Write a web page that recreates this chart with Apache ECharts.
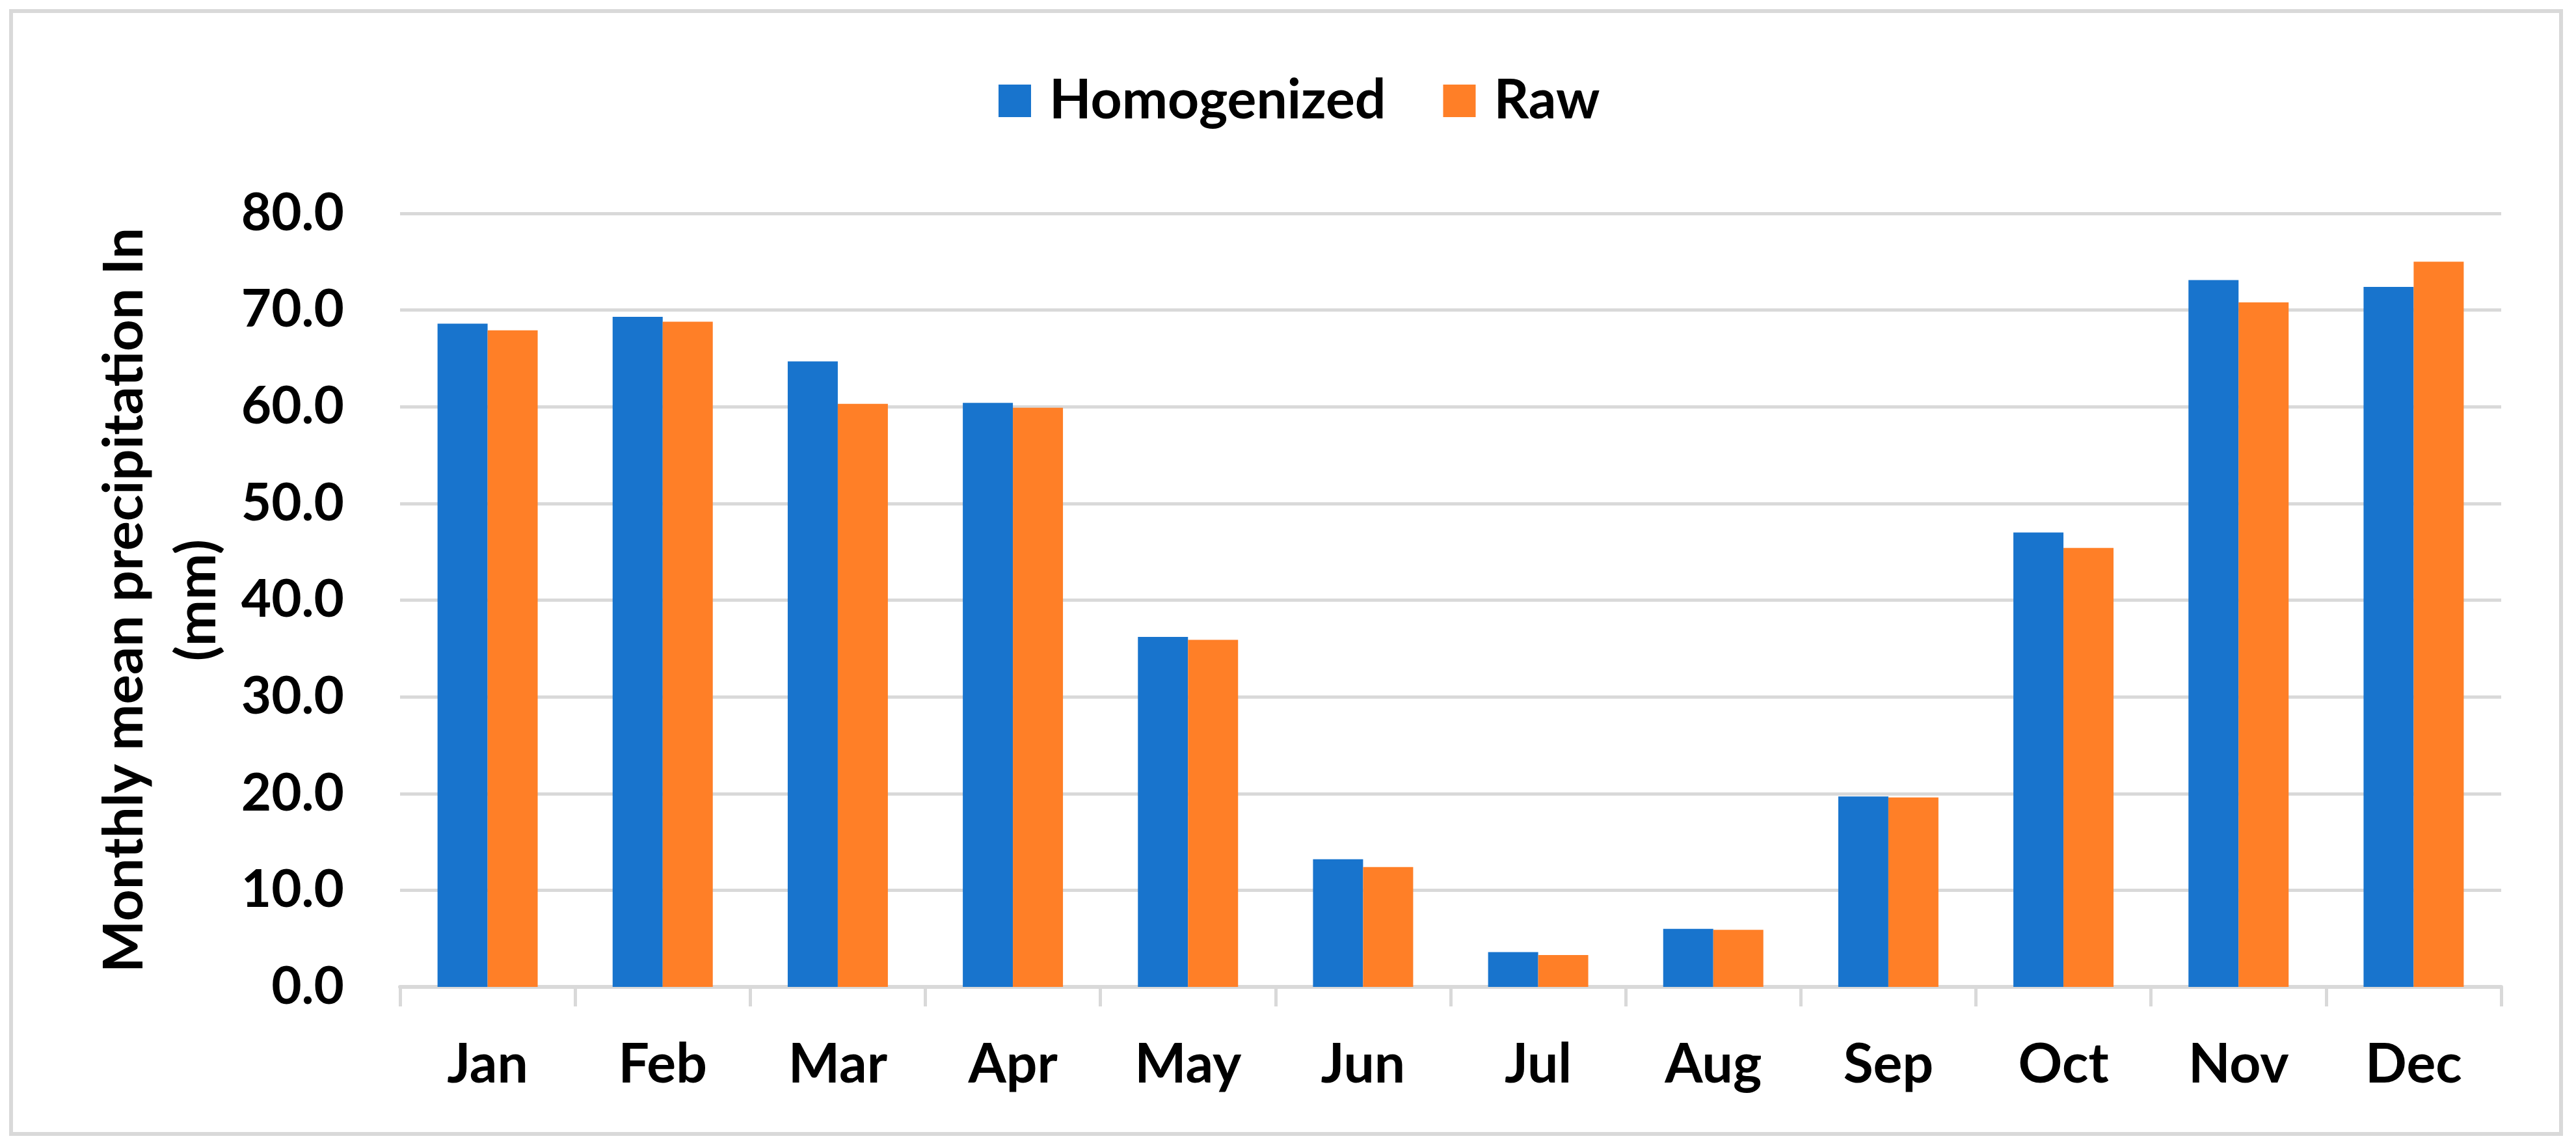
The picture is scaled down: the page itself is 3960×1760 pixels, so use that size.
<!DOCTYPE html>
<html>
<head>
<meta charset="utf-8">
<script src="https://cdn.jsdelivr.net/npm/echarts@6/dist/echarts.min.js"></script>
<style>
html,body{margin:0;padding:0;background:#fff;}
#chart{width:3960px;height:1760px;}
</style>
</head>
<body>
<div id="chart"></div>
<script>
const months = ['Jan','Feb','Mar','Apr','May','Jun','Jul','Aug','Sep','Oct','Nov','Dec'];
const homogenized = [68.6, 69.3, 64.7, 60.4, 36.2, 13.2, 3.6, 6.0, 19.7, 47.0, 73.1, 72.4];
const raw = [67.9, 68.8, 60.3, 59.9, 35.9, 12.4, 3.3, 5.9, 19.6, 45.4, 70.8, 75.0];
const yTicks = [0, 10, 20, 30, 40, 50, 60, 70, 80];

const FONT = 'Lato';
const chart = echarts.init(document.getElementById('chart'), null, {renderer: 'canvas'});
chart.setOption({
  backgroundColor: '#ffffff',
  animation: false,
  graphic: [{
    type: 'rect',
    shape: {x: 17, y: 17, width: 3920, height: 1726},
    style: {fill: 'none', stroke: '#d9d9d9', lineWidth: 6},
    silent: true
  }],
  legend: {
    left: 1530,
    top: 108,
    itemWidth: 50,
    itemHeight: 50,
    itemGap: 88,
    icon: 'rect',
    textStyle: {fontFamily: FONT, fontWeight: 'bold', fontSize: 84, color: '#000', lineHeight: 84, padding: [0, 0, 0, 23]},
    data: ['Homogenized', 'Raw']
  },
  grid: {left: 615, right: 115, top: 328, bottom: 243, containLabel: false},
  xAxis: {
    type: 'category',
    data: months,
    boundaryGap: true,
    axisLine: {show: true, lineStyle: {color: '#d9d9d9', width: 6}},
    axisTick: {show: true, length: 30, lineStyle: {color: '#d9d9d9', width: 5}},
    axisLabel: {fontFamily: FONT, fontWeight: 'bold', fontSize: 84, color: '#000', margin: 78, lineHeight: 84}
  },
  yAxis: {
    type: 'value',
    min: yTicks[0],
    max: yTicks[yTicks.length - 1],
    interval: 10,
    name: 'Monthly mean precipitation In\n(mm)',
    nameLocation: 'middle',
    nameRotate: 90,
    nameGap: 250,
    nameTextStyle: {fontFamily: FONT, fontWeight: 'bold', fontSize: 85, color: '#000', lineHeight: 112, align: 'center'},
    axisLine: {show: false},
    axisTick: {show: false},
    splitLine: {show: true, lineStyle: {color: '#d9d9d9', width: 5}},
    axisLabel: {fontFamily: FONT, fontWeight: 'bold', fontSize: 80, color: '#000', margin: 86, formatter: v => v.toFixed(1)}
  },
  series: [
    {name: 'Homogenized', type: 'bar', data: homogenized, barGap: '0%', barCategoryGap: '42.8%', itemStyle: {color: '#1874CD'}},
    {name: 'Raw', type: 'bar', data: raw, barGap: '0%', barCategoryGap: '42.8%', itemStyle: {color: '#FF7F27'}}
  ]
});
</script>
</body>
</html>
